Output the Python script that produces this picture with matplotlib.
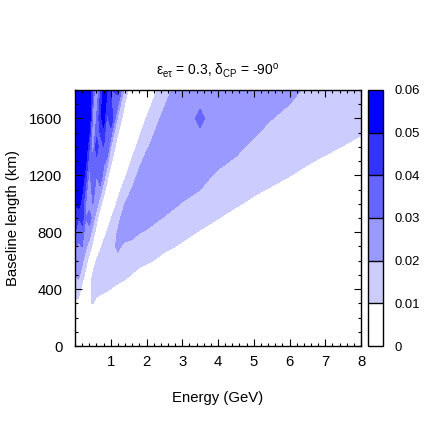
import matplotlib
matplotlib.use("Agg")
import matplotlib.pyplot as plt
from matplotlib import font_manager
from matplotlib.ticker import MultipleLocator
import numpy as np

# ---- data ----
energy = [0.0, 0.1, 0.2, 0.3, 0.4, 0.5, 0.6, 0.7, 0.8, 0.9, 1.0, 1.2, 1.4, 1.6,
          1.8, 2.0, 2.5, 3.0, 3.5, 4.0, 4.5, 5.0, 5.5, 6.0, 6.5, 7.0, 7.5, 8.0]
baseline = [0, 200, 300, 400, 500, 600, 700, 800, 900, 1000, 1200, 1400, 1600, 1800]

row_0    = [0.0] * 28
row_200  = [0.0] * 28
row_300  = [0.008, 0.006, 0.003, 0.005, 0.0095, 0.0105, 0.005, 0.003, 0.002, 0.002, 0.002, 0.002, 0.002, 0.001,
            0.001, 0.001, 0.001, 0.001, 0.001, 0.001, 0.001, 0.001, 0.001, 0.001, 0.001, 0.001, 0.001, 0.001]
row_400  = [0.018, 0.016, 0.006, 0.004, 0.007, 0.013, 0.016, 0.015, 0.013, 0.0115, 0.0098, 0.006, 0.004, 0.003,
            0.003, 0.002, 0.002, 0.002, 0.002, 0.002, 0.002, 0.002, 0.002, 0.002, 0.002, 0.002, 0.002, 0.002]
row_500  = [0.02, 0.022, 0.015, 0.007, 0.005, 0.0113, 0.015, 0.017, 0.018, 0.018, 0.0175, 0.016, 0.013, 0.0093,
            0.006, 0.004, 0.003, 0.002, 0.002, 0.002, 0.002, 0.002, 0.002, 0.002, 0.002, 0.002, 0.002, 0.002]
row_600  = [0.025, 0.028, 0.022, 0.014, 0.006, 0.004, 0.0102, 0.014, 0.017, 0.0185, 0.0185, 0.0185, 0.0175, 0.016,
            0.0137, 0.0118, 0.0069, 0.004, 0.003, 0.003, 0.002, 0.002, 0.002, 0.002, 0.002, 0.002, 0.002, 0.002]
row_700  = [0.03, 0.028, 0.03, 0.022, 0.015, 0.007, 0.004, 0.008, 0.0125, 0.015, 0.018, 0.021, 0.0185, 0.0175,
            0.016, 0.015, 0.0121, 0.0087, 0.006, 0.004, 0.003, 0.003, 0.002, 0.002, 0.002, 0.002, 0.002, 0.002]
row_800  = [0.04, 0.035, 0.035, 0.025, 0.025, 0.015, 0.006, 0.003, 0.006, 0.0107, 0.014, 0.0207, 0.023, 0.0225,
            0.0203, 0.0191, 0.0159, 0.0126, 0.0094, 0.006, 0.004, 0.003, 0.003, 0.002, 0.002, 0.002, 0.002, 0.002]
row_900  = [0.045, 0.04, 0.045, 0.03, 0.035, 0.025, 0.013, 0.005, 0.003, 0.004, 0.0092, 0.0172, 0.025, 0.026,
            0.026, 0.0235, 0.0194, 0.0163, 0.0132, 0.0102, 0.0071, 0.005, 0.0035, 0.003, 0.003, 0.002, 0.002, 0.002]
row_1000 = [0.05, 0.055, 0.045, 0.03, 0.025, 0.03, 0.025, 0.013, 0.005, 0.003, 0.0033, 0.0117, 0.0201, 0.0255,
            0.027, 0.027, 0.024, 0.0194, 0.0166, 0.0138, 0.011, 0.0082, 0.006, 0.0045, 0.0035, 0.003, 0.003, 0.003]
row_1200 = [0.058, 0.05, 0.058, 0.045, 0.025, 0.04, 0.03, 0.04, 0.025, 0.012, 0.005, 0.003, 0.0086, 0.0155,
            0.0224, 0.0265, 0.028, 0.028, 0.0235, 0.0182, 0.017, 0.0148, 0.0125, 0.0102, 0.008, 0.006, 0.005, 0.004]
row_1400 = [0.058, 0.058, 0.05, 0.058, 0.04, 0.022, 0.045, 0.035, 0.04, 0.04, 0.02, 0.004, 0.003, 0.0068,
            0.0126, 0.0188, 0.027, 0.0285, 0.029, 0.027, 0.0215, 0.0185, 0.0172, 0.0154, 0.0135, 0.0116, 0.0098, 0.008]
row_1600 = [0.058, 0.058, 0.058, 0.05, 0.058, 0.025, 0.03, 0.045, 0.055, 0.035, 0.05, 0.017, 0.004, 0.003,
            0.0051, 0.0103, 0.0231, 0.0285, 0.0305, 0.0285, 0.026, 0.023, 0.0201, 0.0187, 0.0173, 0.0158, 0.0144, 0.013]
row_1800 = [0.058, 0.058, 0.058, 0.055, 0.058, 0.04, 0.018, 0.038, 0.058, 0.05, 0.038, 0.045, 0.015, 0.003,
            0.002, 0.0025, 0.015, 0.0275, 0.029, 0.028, 0.027, 0.025, 0.023, 0.0213, 0.0193, 0.0178, 0.0163, 0.0148]

levels = [0.0, 0.01, 0.02, 0.03, 0.04, 0.05, 0.06]
level_labels = ['0', '0.01', '0.02', '0.03', '0.04', '0.05', '0.06']
x_ticks = [1, 2, 3, 4, 5, 6, 7, 8]
y_ticks = [0, 400, 800, 1200, 1600]


# ---- fonts (reference text is a narrow Helvetica-like face) ----
def has_font(name):
    try:
        font_manager.findfont(font_manager.FontProperties(family=name), fallback_to_default=False)
        return True
    except Exception:
        return False


narrow = has_font('Liberation Sans Narrow')
main_font = 'Liberation Sans Narrow' if narrow else 'Liberation Sans'
k = 1.0 if narrow else 0.86
plt.rcParams['font.family'] = [main_font, 'Liberation Sans', 'DejaVu Sans']
plt.rcParams['mathtext.fontset'] = 'custom'
plt.rcParams['mathtext.rm'] = main_font
plt.rcParams['mathtext.it'] = main_font

# ---- figure ----
Z = np.array([row_0, row_200, row_300, row_400, row_500, row_600, row_700, row_800,
              row_900, row_1000, row_1200, row_1400, row_1600, row_1800])
colors = ['#ffffff', '#ccccff', '#9999ff', '#6666ff', '#3333ff', '#0000ff']

W = 436.0
fig = plt.figure(figsize=(4.36, 4.36), dpi=100)
ax = fig.add_axes([75 / W, 90 / W, 286 / W, 256 / W])
cax = fig.add_axes([368 / W, 90 / W, 15 / W, 256 / W])

cs = ax.contourf(energy, baseline, Z, levels=levels, colors=colors)
ax.set_xlim(0, 8)
ax.set_ylim(0, 1800)
ax.set_xticks(x_ticks)
ax.set_yticks(y_ticks)
ax.xaxis.set_minor_locator(MultipleLocator(0.2))
ax.yaxis.set_minor_locator(MultipleLocator(100))
ax.tick_params(which='both', direction='in', top=True, right=True, labelsize=12.5 * k, width=0.8)
ax.tick_params(which='major', length=5)
ax.tick_params(which='minor', length=2.5)
ax.tick_params(axis='x', pad=6.5)
ax.tick_params(axis='y', pad=9)
for s in ax.spines.values():
    s.set_linewidth(1.0)
ax.set_xlabel('Energy (GeV)', fontsize=12.5 * k, labelpad=16)
ax.set_ylabel('Baseline length (km)', fontsize=12.5 * k, labelpad=7)
ax.set_title(r'ε$_{\mathrm{e\tau}}$ = 0.3, δ$_{\mathrm{CP}}$ = -90$^{\mathrm{o}}$', fontsize=11.6 * k, pad=11)

cb = fig.colorbar(cs, cax=cax, drawedges=True)
cb.set_ticks(levels)
cb.set_ticklabels(level_labels)
cb.ax.tick_params(length=0, labelsize=11 * k, pad=8)
cb.outline.set_linewidth(1.0)
cb.dividers.set_color('black')
cb.dividers.set_linewidth(1.0)

fig.savefig('out.png', dpi=100)
